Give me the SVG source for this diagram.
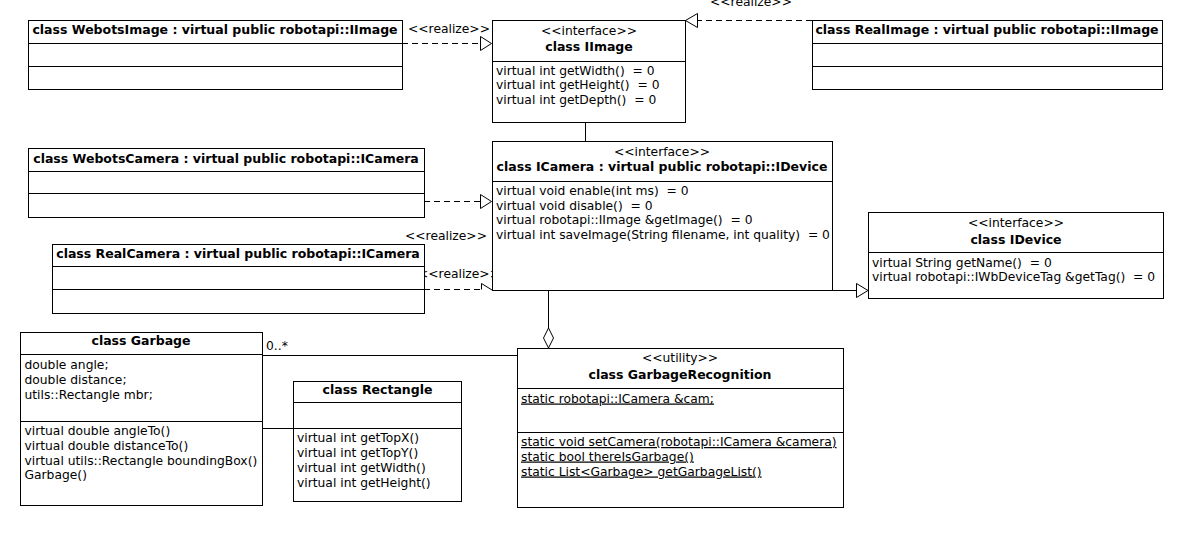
<svg xmlns="http://www.w3.org/2000/svg" width="1178" height="533" viewBox="0 0 1178 533">
<style>
text{font-family:"DejaVu Sans","Liberation Sans",sans-serif;font-size:12.3px;fill:#000;white-space:pre}
.t{font-weight:bold;font-size:12.5px;text-anchor:middle}
.c{text-anchor:middle}
.u{text-decoration:underline}
.box{fill:#fff;stroke:#000;stroke-width:1}
.ln{stroke:#000;stroke-width:1;fill:none}
.d{stroke:#000;stroke-width:1;fill:none;stroke-dasharray:6,4}
.tri{fill:#fff;stroke:#000;stroke-width:1}
</style>
<rect width="1178" height="533" fill="#fff"/>
<g id="connectors">
<line class="d" x1="402" y1="43.5" x2="480" y2="43.5"/>
<polygon class="tri" points="480.5,36.5 491.5,43.5 480.5,50.5"/>
<text x="408" y="33">&lt;&lt;realize&gt;&gt;</text>
<line class="d" x1="812" y1="20.5" x2="697" y2="20.5"/>
<polygon class="tri" points="697.5,13.5 685.5,20.5 697.5,27.5"/>
<text x="710" y="6">&lt;&lt;realize&gt;&gt;</text>
<line class="ln" x1="585.5" y1="122" x2="585.5" y2="141"/>
<line class="d" x1="424" y1="201.5" x2="480" y2="201.5"/>
<polygon class="tri" points="480.5,194.5 491.5,201.5 480.5,208.5"/>
<text x="405" y="239.5">&lt;&lt;realize&gt;&gt;</text>
<line class="d" x1="424" y1="289.5" x2="481" y2="289.5"/>
<polyline class="ln" points="481.5,289.5 481.5,283.5 492,290"/>
<text x="418" y="277.5">&lt;&lt;realize&gt;&gt;</text>
<line class="ln" x1="832" y1="290.5" x2="856" y2="290.5"/>
<polygon class="tri" points="856.5,283.5 868,290.5 856.5,297.5"/>
<line class="ln" x1="548.5" y1="290" x2="548.5" y2="328"/>
<polygon class="tri" points="548.5,328 553.5,338 548.5,348 543.5,338"/>
<line class="ln" x1="262" y1="355.5" x2="517" y2="355.5"/>
<text x="266" y="350">0..*</text>
<line class="ln" x1="262" y1="428.5" x2="293" y2="428.5"/>
</g>
<g id="WebotsImage">
<rect class="box" x="28.5" y="20.5" width="374" height="69"/>
<line class="ln" x1="28.5" y1="43.5" x2="402.5" y2="43.5"/>
<line class="ln" x1="28.5" y1="66.5" x2="402.5" y2="66.5"/>
<text class="t" x="215" y="34">class WebotsImage : virtual public robotapi::IImage</text>
</g>
<g id="IImage">
<rect class="box" x="492.5" y="20.5" width="193" height="102"/>
<line class="ln" x1="492.5" y1="61.5" x2="685.5" y2="61.5"/>
<text class="c" x="589" y="34.5">&lt;&lt;interface&gt;&gt;</text>
<text class="t" x="589" y="51">class IImage</text>
<text x="496" y="74.5">virtual int getWidth()  = 0</text>
<text x="496" y="89">virtual int getHeight()  = 0</text>
<text x="496" y="103.5">virtual int getDepth()  = 0</text>
</g>
<g id="RealImage">
<rect class="box" x="812.5" y="20.5" width="350" height="69"/>
<line class="ln" x1="812.5" y1="43.5" x2="1162.5" y2="43.5"/>
<line class="ln" x1="812.5" y1="66.5" x2="1162.5" y2="66.5"/>
<text class="t" x="987" y="34">class RealImage : virtual public robotapi::IImage</text>
</g>
<g id="WebotsCamera">
<rect class="box" x="28.5" y="148.5" width="396" height="69"/>
<line class="ln" x1="28.5" y1="171.5" x2="424.5" y2="171.5"/>
<line class="ln" x1="28.5" y1="193.5" x2="424.5" y2="193.5"/>
<text class="t" x="226" y="162.5">class WebotsCamera : virtual public robotapi::ICamera</text>
</g>
<g id="RealCamera">
<rect class="box" x="52.5" y="244.5" width="372" height="69"/>
<line class="ln" x1="52.5" y1="266.5" x2="424.5" y2="266.5"/>
<line class="ln" x1="52.5" y1="289.5" x2="424.5" y2="289.5"/>
<text class="t" x="238" y="257.5">class RealCamera : virtual public robotapi::ICamera</text>
</g>
<g id="ICamera">
<rect class="box" x="492.5" y="141.5" width="340" height="149"/>
<line class="ln" x1="492.5" y1="181.5" x2="832.5" y2="181.5"/>
<text class="c" x="662" y="155.5">&lt;&lt;interface&gt;&gt;</text>
<text class="t" x="662" y="171">class ICamera : virtual public robotapi::IDevice</text>
<text x="496" y="195">virtual void enable(int ms)  = 0</text>
<text x="496" y="209.5">virtual void disable()  = 0</text>
<text x="496" y="224">virtual robotapi::IImage &amp;getImage()  = 0</text>
<text x="496" y="238.5">virtual int saveImage(String filename, int quality)  = 0</text>
</g>
<g id="IDevice">
<rect class="box" x="868.5" y="212.5" width="295" height="86"/>
<line class="ln" x1="868.5" y1="252.5" x2="1163.5" y2="252.5"/>
<text class="c" x="1016" y="227">&lt;&lt;interface&gt;&gt;</text>
<text class="t" x="1016" y="243.5">class IDevice</text>
<text x="872" y="266.5">virtual String getName()  = 0</text>
<text x="872" y="281">virtual robotapi::IWbDeviceTag &amp;getTag()  = 0</text>
</g>
<g id="Garbage">
<rect class="box" x="20.5" y="332.5" width="242" height="173"/>
<line class="ln" x1="20.5" y1="354.5" x2="262.5" y2="354.5"/>
<line class="ln" x1="20.5" y1="421.5" x2="262.5" y2="421.5"/>
<text class="t" x="141" y="345">class Garbage</text>
<text x="24.5" y="368.5">double angle;</text>
<text x="24.5" y="383.5">double distance;</text>
<text x="24.5" y="398.5">utils::Rectangle mbr;</text>
<text x="24.5" y="434.5">virtual double angleTo()</text>
<text x="24.5" y="449.5">virtual double distanceTo()</text>
<text x="24.5" y="464.5">virtual utils::Rectangle boundingBox()</text>
<text x="24.5" y="479">Garbage()</text>
</g>
<g id="Rectangle">
<rect class="box" x="293.5" y="381.5" width="168" height="120"/>
<line class="ln" x1="293.5" y1="402.5" x2="461.5" y2="402.5"/>
<line class="ln" x1="293.5" y1="428.5" x2="461.5" y2="428.5"/>
<text class="t" x="377.5" y="393.5">class Rectangle</text>
<text x="297" y="442">virtual int getTopX()</text>
<text x="297" y="457">virtual int getTopY()</text>
<text x="297" y="471.5">virtual int getWidth()</text>
<text x="297" y="486.5">virtual int getHeight()</text>
</g>
<g id="GarbageRecognition">
<rect class="box" x="517.5" y="348.5" width="326" height="159"/>
<line class="ln" x1="517.5" y1="388.5" x2="843.5" y2="388.5"/>
<line class="ln" x1="517.5" y1="432.5" x2="843.5" y2="432.5"/>
<text class="c" x="680" y="362">&lt;&lt;utility&gt;&gt;</text>
<text class="t" x="680" y="378.5">class GarbageRecognition</text>
<text class="u" x="521" y="402.5">static robotapi::ICamera &amp;cam;</text>
<text class="u" x="521" y="446">static void setCamera(robotapi::ICamera &amp;camera)</text>
<text class="u" x="521" y="460.5">static bool thereIsGarbage()</text>
<text class="u" x="521" y="475.5">static List&lt;Garbage&gt; getGarbageList()</text>
</g>
</svg>
